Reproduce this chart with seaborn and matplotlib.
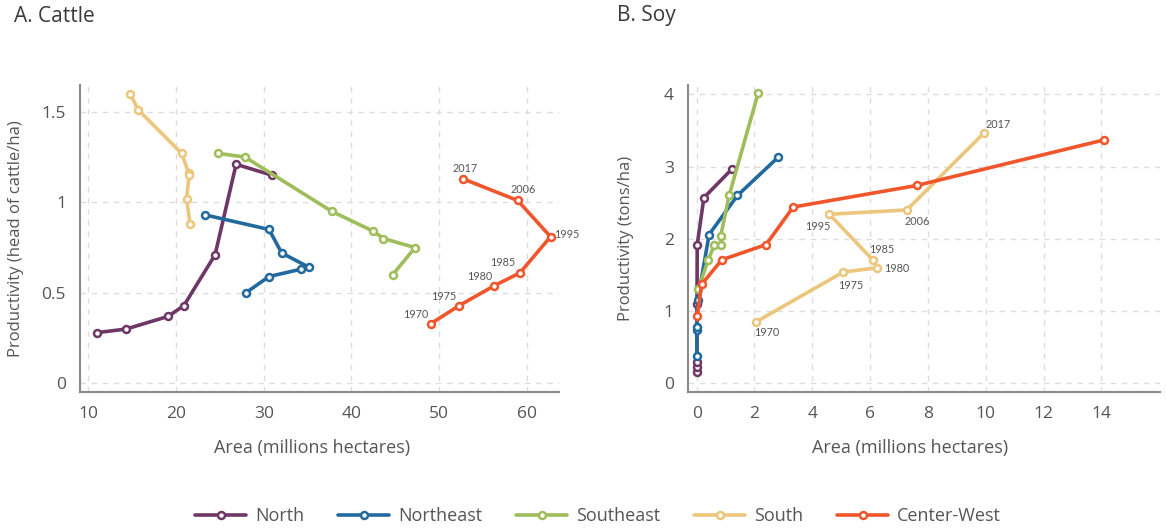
import matplotlib
matplotlib.use("Agg")
import matplotlib.pyplot as plt
import seaborn as sns
import pandas as pd

# region order and colours
regions = ["North", "Northeast", "Southeast", "South", "Center-West"]
colors = ["#6E3766", "#22699E", "#9FBD5B", "#EBC67C", "#F0552B"]
years = [1970, 1975, 1980, 1985, 1995, 2006, 2017]

# A. Cattle: area (millions ha) and productivity (head of cattle/ha)
cattle_north_x = [10.95, 14.3, 19.1, 20.9, 24.45, 26.85, 30.9]
cattle_north_y = [0.28, 0.30, 0.37, 0.43, 0.71, 1.21, 1.15]
cattle_northeast_x = [23.35, 30.6, 32.05, 35.2, 34.2, 30.6, 27.95]
cattle_northeast_y = [0.93, 0.85, 0.72, 0.64, 0.63, 0.59, 0.50]
cattle_southeast_x = [24.8, 27.85, 37.75, 42.5, 43.65, 47.25, 44.7]
cattle_southeast_y = [1.27, 1.25, 0.95, 0.84, 0.80, 0.75, 0.60]
cattle_south_x = [14.75, 15.7, 20.65, 21.45, 21.5, 21.2, 21.6]
cattle_south_y = [1.60, 1.51, 1.27, 1.16, 1.15, 1.02, 0.88]
cattle_cw_x = [49.05, 52.3, 56.3, 59.2, 62.7, 58.95, 52.7]
cattle_cw_y = [0.33, 0.43, 0.54, 0.61, 0.81, 1.01, 1.13]

# B. Soy: area (millions ha) and productivity (tons/ha)
soy_north_x = [0.01, 0.01, 0.01, 0.01, 0.02, 0.25, 1.23]
soy_north_y = [0.16, 0.23, 0.30, 1.10, 1.92, 2.57, 2.97]
soy_northeast_x = [0.01, 0.01, 0.01, 0.04, 0.43, 1.41, 2.82]
soy_northeast_y = [0.38, 0.74, 0.78, 1.16, 2.06, 2.60, 3.13]
soy_southeast_x = [0.06, 0.40, 0.61, 0.83, 0.83, 1.13, 2.13]
soy_southeast_y = [1.31, 1.71, 1.91, 1.91, 2.04, 2.61, 4.02]
soy_south_x = [2.05, 5.07, 6.25, 6.09, 4.59, 7.27, 9.95]
soy_south_y = [0.85, 1.54, 1.60, 1.71, 2.34, 2.40, 3.47]
soy_cw_x = [0.02, 0.17, 0.87, 2.40, 3.34, 7.63, 14.1]
soy_cw_y = [0.93, 1.37, 1.71, 1.92, 2.44, 2.74, 3.37]


def long_df(xs, ys):
    rows = []
    for reg, x, y in zip(regions, xs, ys):
        for i, (a, b) in enumerate(zip(x, y)):
            rows.append({"region": reg, "order": i, "area": a, "prod": b})
    return pd.DataFrame(rows)


cattle = long_df(
    [cattle_north_x, cattle_northeast_x, cattle_southeast_x, cattle_south_x, cattle_cw_x],
    [cattle_north_y, cattle_northeast_y, cattle_southeast_y, cattle_south_y, cattle_cw_y])
soy = long_df(
    [soy_north_x, soy_northeast_x, soy_southeast_x, soy_south_x, soy_cw_x],
    [soy_north_y, soy_northeast_y, soy_southeast_y, soy_south_y, soy_cw_y])

# label offsets in pixels (dx, dy, ha) for year labels
cattle_label_off = {1970: (-15, 9, "center"), 1975: (-16, 9, "center"), 1980: (-15, 9, "center"),
                    1985: (-17, 10, "center"), 1995: (4, 2, "left"), 2006: (6, 11, "center"),
                    2017: (2, 10, "center")}
soy_label_off = {1970: (11, -11, "center"), 1975: (8, -13, "center"), 1980: (7, -1, "left"),
                 1985: (9, 10, "center"), 1995: (-12, -12, "center"), 2006: (10, -12, "center"),
                 2017: (14, 8, "center")}

sns.set_theme(style="white")
plt.rcParams["font.family"] = ["Open Sans", "DejaVu Sans"]
text_col = "#555555"

fig = plt.figure(figsize=(11.66, 5.31), dpi=100)
ax1 = fig.add_axes([0.0686, 0.2623, 0.4111, 0.5777])
ax2 = fig.add_axes([0.5898, 0.2623, 0.4051, 0.5777])


def draw(ax, df):
    for reg, col in zip(regions, colors):
        sub = df[df.region == reg]
        sns.lineplot(data=sub, x="area", y="prod", sort=False, estimator=None,
                     color=col, lw=2.6, marker="o", markersize=5,
                     markerfacecolor="white", markeredgecolor=col,
                     markeredgewidth=1.8, label=reg, ax=ax)
    ax.grid(True, ls=(0, (4, 4)), color="#dddddd", lw=1)
    for s in ["top", "right"]:
        ax.spines[s].set_visible(False)
    for s in ["left", "bottom"]:
        ax.spines[s].set_color("#8a8a8a")
        ax.spines[s].set_linewidth(1.5)
    ax.tick_params(length=0, pad=10, labelsize=12.5, labelcolor=text_col)
    ax.set_xlabel("Area (millions hectares)", fontsize=13, color=text_col)
    ax.legend_.remove()


draw(ax1, cattle)
ax1.set_xlim(9.05, 63.7)
ax1.set_ylim(-0.046, 1.648)
ax1.set_xticks([10, 20, 30, 40, 50, 60])
ax1.set_yticks([0, 0.5, 1, 1.5])
ax1.set_yticklabels(["0", "0.5", "1", "1.5"])
ax1.set_ylabel("Productivity (head of cattle/ha)", fontsize=12, color=text_col)
ax1.yaxis.set_label_coords(-0.116, 0.5)
ax1.xaxis.set_label_coords(0.484, -0.155)

draw(ax2, soy)
ax2.set_xlim(-0.31, 16.03)
ax2.set_ylim(-0.116, 4.13)
ax2.set_xticks(range(0, 15, 2))
ax2.set_yticks([0, 1, 2, 3, 4])
ax2.set_ylabel("Productivity (tons/ha)", fontsize=12, color=text_col)
ax2.yaxis.set_label_coords(-0.114, 0.5)
ax2.xaxis.set_label_coords(0.471, -0.155)

# year labels
for yr, x, y in zip(years, cattle_cw_x, cattle_cw_y):
    dx, dy, ha = cattle_label_off[yr]
    ax1.annotate(str(yr), (x, y), xytext=(dx, dy), textcoords="offset pixels",
                 ha=ha, va="center", fontsize=7.8, color=text_col, family="Lato")
for yr, x, y in zip(years, soy_south_x, soy_south_y):
    dx, dy, ha = soy_label_off[yr]
    ax2.annotate(str(yr), (x, y), xytext=(dx, dy), textcoords="offset pixels",
                 ha=ha, va="center", fontsize=7.8, color=text_col, family="Lato")

fig.text(14 / 1166, 1 - 16 / 531, "A. Cattle", fontsize=15, color="#3a3a3a", va="center")
fig.text(617 / 1166, 1 - 16 / 531, "B. Soy", fontsize=15, color="#3a3a3a", va="center")

handles, labels = ax1.get_legend_handles_labels()
fig.legend(handles, labels, loc="center", bbox_to_anchor=(598 / 1166, 1 - 516 / 531),
           ncol=5, frameon=False, fontsize=13, handlelength=2.8, handletextpad=0.5,
           columnspacing=1.9, labelcolor=text_col)

fig.savefig("out.png", dpi=100)
